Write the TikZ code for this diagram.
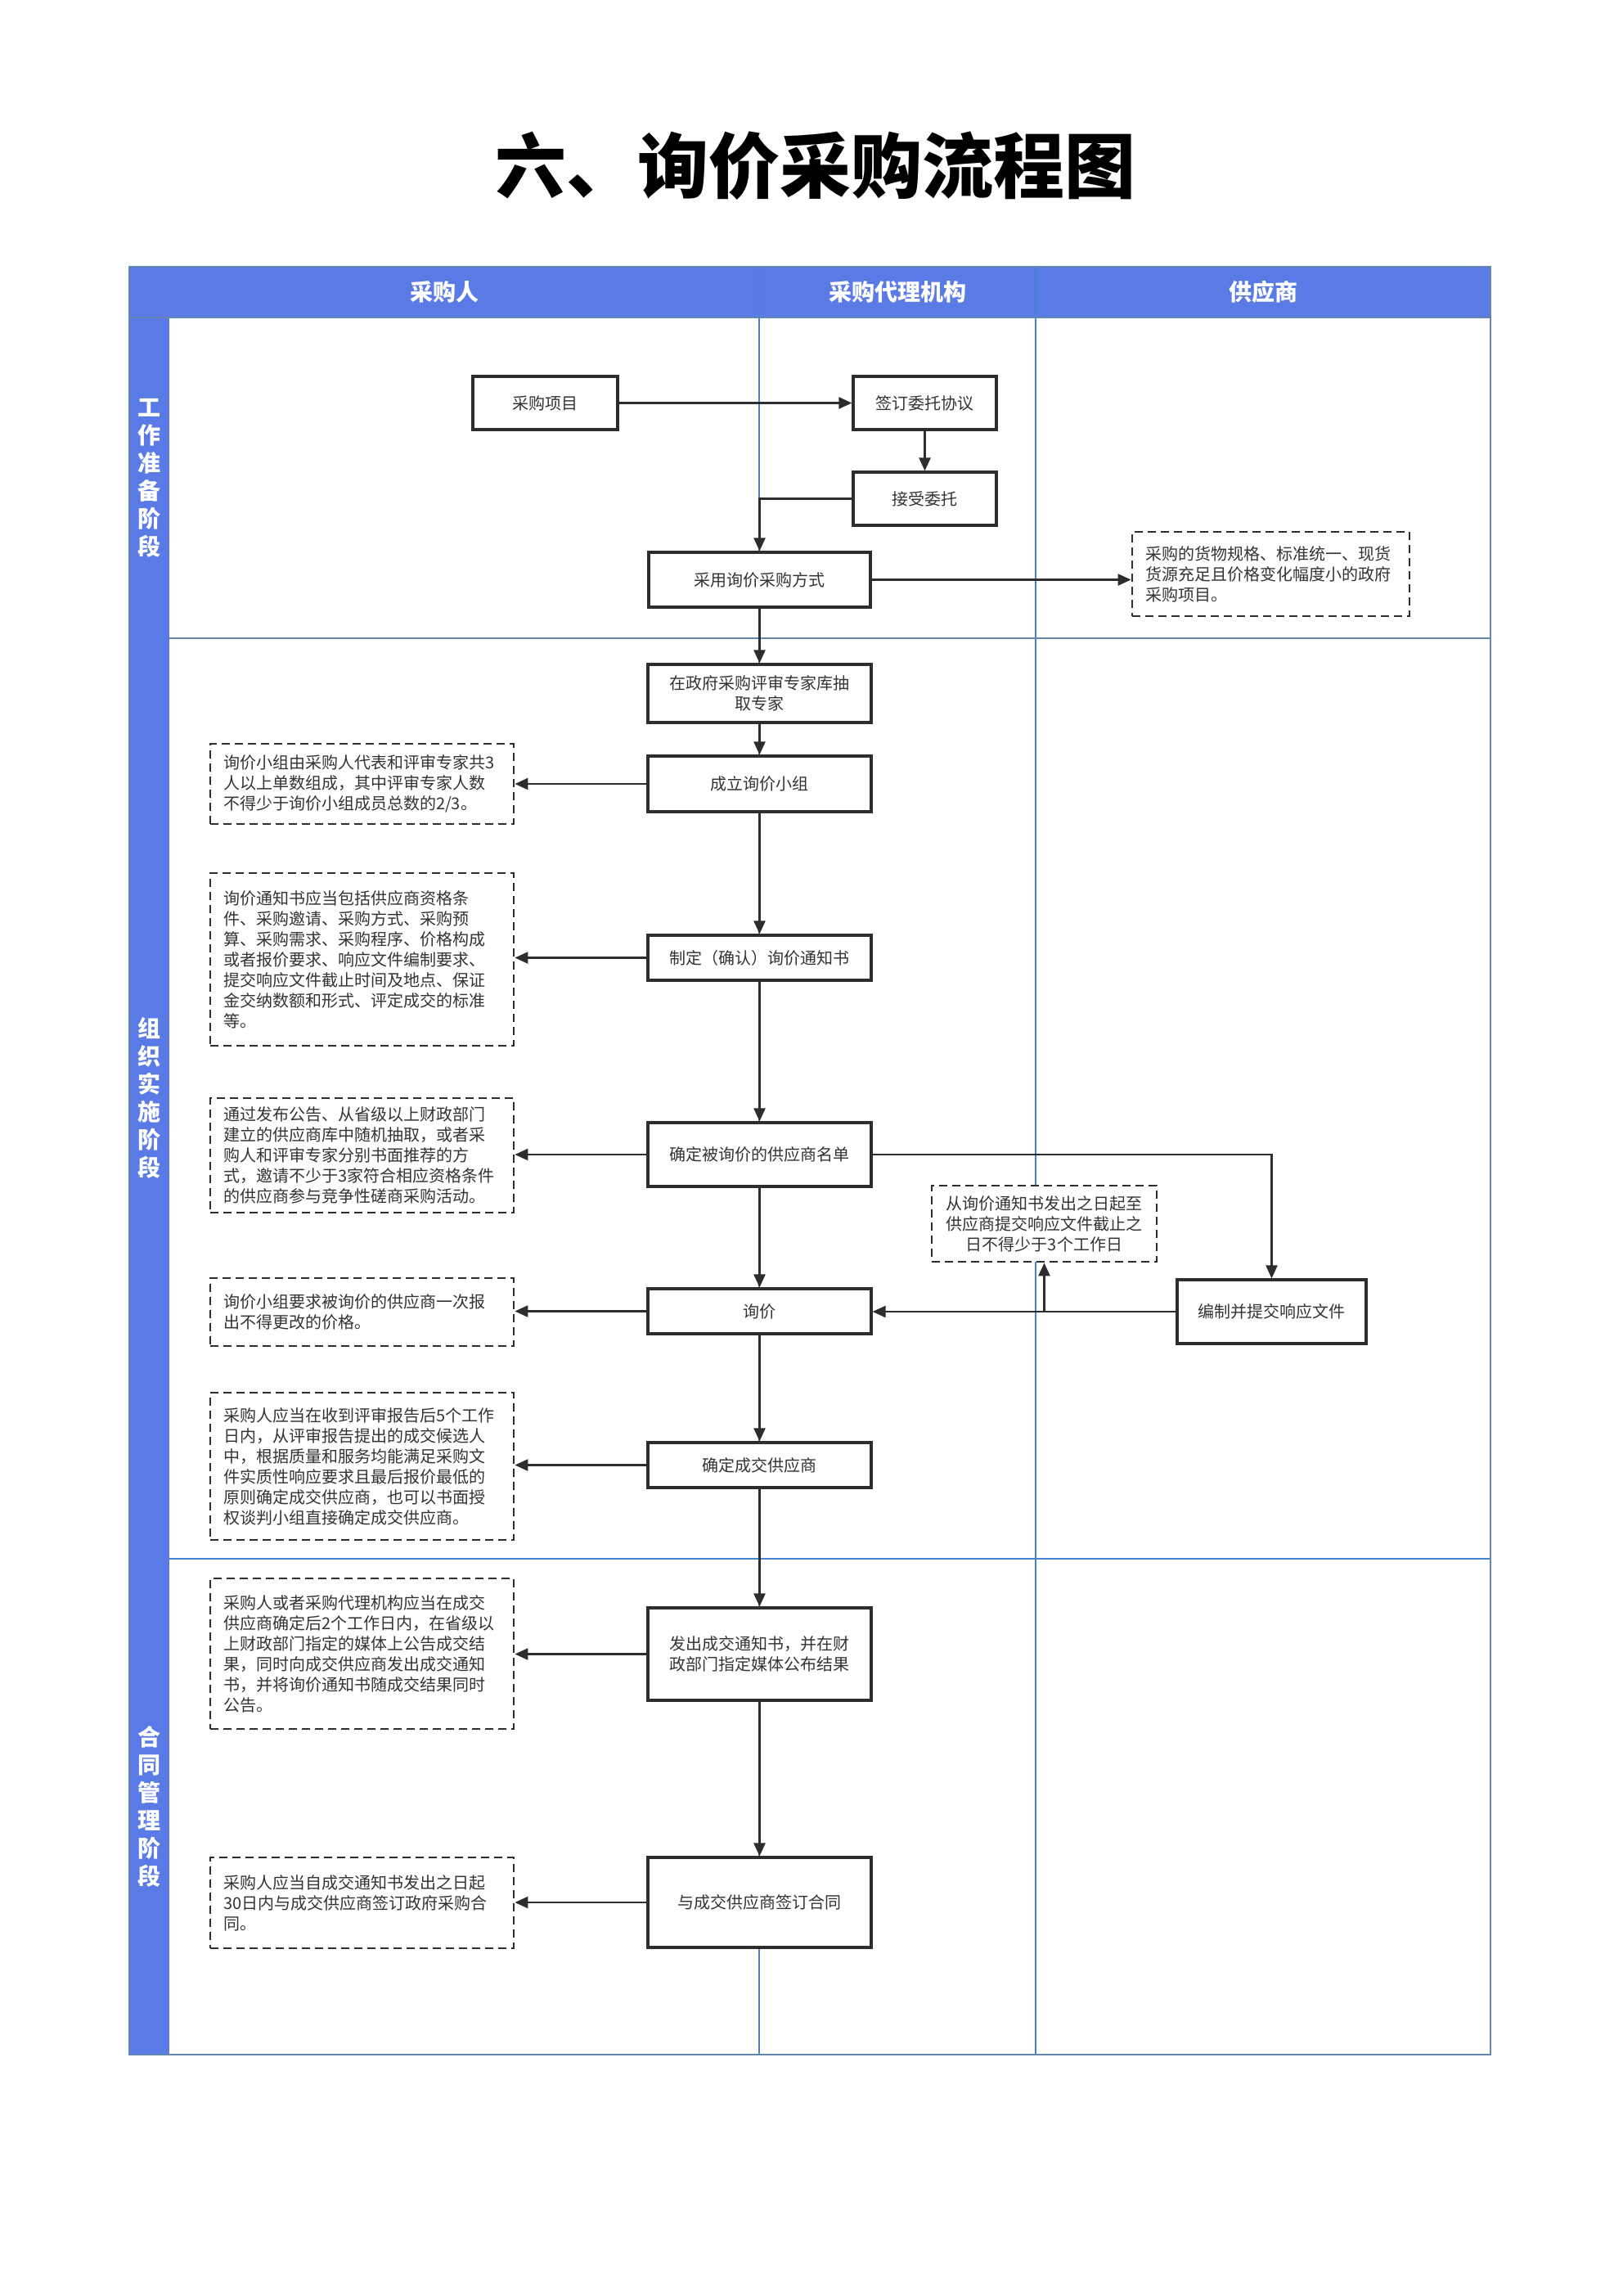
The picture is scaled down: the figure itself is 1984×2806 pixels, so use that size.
\documentclass[tikz,border=0pt]{standalone}
\usepackage{fontspec}
\setmainfont{Noto Sans CJK SC}
\usetikzlibrary{arrows.meta,calc}
\definecolor{hdrblue}{RGB}{90,123,229}
\definecolor{gridblue}{RGB}{70,130,210}
\definecolor{steel}{RGB}{100,135,175}
\definecolor{ink}{RGB}{45,45,45}
\definecolor{txt}{RGB}{51,51,51}
\tikzset{
 box/.style={draw=ink, line width=1.6pt, fill=white, text=txt, font=\fontsize{10pt}{12.5pt}\selectfont, align=center, inner sep=2pt},
 note/.style={draw=ink, line width=1.4pt, dash pattern=on 5pt off 3pt, fill=white, text=txt, font=\fontsize{10pt}{12.5pt}\selectfont, align=left, inner xsep=8pt, inner ysep=2pt},
 conn/.style={draw=ink, line width=1.2pt, -{Triangle[length=8pt,width=7pt]}},
 phase/.style={text=white, font=\bfseries\fontsize{14pt}{17pt}\selectfont, align=center},
 hdr/.style={text=white, font=\bfseries\fontsize{14pt}{17pt}\selectfont},
}
\begin{document}
\begin{tikzpicture}[x=0.5pt,y=-0.5pt]
\useasboundingbox (0,0) rectangle (1984,2806);
\fill[white] (0,0) rectangle (1984,2806);
% title
\node[font=\bfseries\fontsize{43.5pt}{50pt}\selectfont, text=black] (title) at (997,203) {六、询价采购流程图};
% table
\fill[hdrblue] (158,326) rectangle (1822,388);
\fill[hdrblue] (158,388) rectangle (207,2511);
\draw[gridblue, line width=0.8pt] (928,326) -- (928,2511);
\draw[gridblue, line width=0.8pt] (1266,326) -- (1266,2511);
\draw[gridblue, line width=0.8pt] (207,1905) -- (1822,1905);
\draw[steel, line width=1.2pt] (207,780) -- (1822,780);
\draw[steel, line width=1pt] (158,388) -- (1822,388);
\draw[steel, line width=1pt] (158,326) rectangle (1822,2511);
% headers
\node[hdr] (h1) at (543,357) {采购人};
\node[hdr] (h2) at (1097,357) {采购代理机构};
\node[hdr] (h3) at (1544,357) {供应商};
% phases
\node[phase] (ph1) at (182.5,584) {工\\作\\准\\备\\阶\\段};
\node[phase] (ph2) at (182.5,1342) {组\\织\\实\\施\\阶\\段};
\node[phase] (ph3) at (182.5,2208) {合\\同\\管\\理\\阶\\段};
% stage 1
\node[box, minimum width=88.5pt, minimum height=32.5pt] (p1) at (666.5,492.5) {采购项目};
\node[box, minimum width=87.5pt, minimum height=32.5pt] (p2) at (1130.5,492.5) {签订委托协议};
\node[box, minimum width=87.5pt, minimum height=32.5pt] (p3) at (1130.5,609.5) {接受委托};
\node[box, minimum width=135.5pt, minimum height=33.5pt] (p4) at (928.5,708.5) {采用询价采购方式};
\node[note, minimum width=169.5pt, minimum height=51.5pt, text width=153.5pt] (n0) at (1553.5,701.5) {采购的货物规格、标准统一、现货\\货源充足且价格变化幅度小的政府\\采购项目。};
% stage 2
\node[box, minimum width=136.5pt, minimum height=35.5pt] (b1) at (928.5,847.5) {在政府采购评审专家库抽\\取专家};
\node[box, minimum width=136.5pt, minimum height=34pt] (b2) at (928.5,958) {成立询价小组};
\node[note, minimum width=185.5pt, minimum height=49pt, text width=169.5pt] (n1) at (442.5,958) {询价小组由采购人代表和评审专家共3\\人以上单数组成，其中评审专家人数\\不得少于询价小组成员总数的2/3。};
\node[box, minimum width=136.5pt, minimum height=27.5pt] (b3) at (928.5,1170.5) {制定（确认）询价通知书};
\node[note, minimum width=185.5pt, minimum height=105.5pt, text width=169.5pt] (n2) at (442.5,1172.5) {询价通知书应当包括供应商资格条\\件、采购邀请、采购方式、采购预\\算、采购需求、采购程序、价格构成\\或者报价要求、响应文件编制要求、\\提交响应文件截止时间及地点、保证\\金交纳数额和形式、评定成交的标准\\等。};
\node[box, minimum width=136.5pt, minimum height=39pt] (b4) at (928.5,1411) {确定被询价的供应商名单};
\node[note, minimum width=185.5pt, minimum height=70pt, text width=169.5pt] (n3) at (442.5,1412) {通过发布公告、从省级以上财政部门\\建立的供应商库中随机抽取，或者采\\购人和评审专家分别书面推荐的方\\式，邀请不少于3家符合相应资格条件\\的供应商参与竞争性磋商采购活动。};
\node[box, minimum width=136.5pt, minimum height=27.5pt] (b5) at (928.5,1602.5) {询价};
\node[note, minimum width=185.5pt, minimum height=41.5pt, text width=169.5pt] (n4) at (442.5,1603.5) {询价小组要求被询价的供应商一次报\\出不得更改的价格。};
\node[box, minimum width=115.5pt, minimum height=39pt] (s1) at (1554.5,1603) {编制并提交响应文件};
\node[note, align=center, minimum width=137.5pt, minimum height=46.5pt] (n5) at (1276.5,1495.5) {从询价通知书发出之日起至\\供应商提交响应文件截止之\\日不得少于3个工作日};
\node[box, minimum width=136.5pt, minimum height=27.5pt] (b6) at (928.5,1790.5) {确定成交供应商};
\node[note, minimum width=185.5pt, minimum height=90pt, text width=169.5pt] (n6) at (442.5,1792) {采购人应当在收到评审报告后5个工作\\日内，从评审报告提出的成交候选人\\中，根据质量和服务均能满足采购文\\件实质性响应要求且最后报价最低的\\原则确定成交供应商，也可以书面授\\权谈判小组直接确定成交供应商。};
% stage 3
\node[box, minimum width=136.5pt, minimum height=56.5pt] (b7) at (928.5,2021.5) {发出成交通知书，并在财\\政部门指定媒体公布结果};
\node[note, minimum width=185.5pt, minimum height=92pt, text width=169.5pt] (n7) at (442.5,2021) {采购人或者采购代理机构应当在成交\\供应商确定后2个工作日内，在省级以\\上财政部门指定的媒体上公告成交结\\果，同时向成交供应商发出成交通知\\书，并将询价通知书随成交结果同时\\公告。};
\node[box, minimum width=136.5pt, minimum height=55pt] (b8) at (928.5,2325) {与成交供应商签订合同};
\node[note, minimum width=185.5pt, minimum height=55.5pt, text width=169.5pt] (n8) at (442.5,2325.5) {采购人应当自成交通知书发出之日起\\30日内与成交供应商签订政府采购合\\同。};
% connectors
\draw[conn] (p1.east) -- (p2.west);
\draw[conn] (p2.south) -- (p3.north);
\draw[conn] (p3.west) -| (p4.north);
\draw[conn] (p4.east) -- (p4.east -| n0.west);
\draw[conn] (p4.south) -- (b1.north);
\draw[conn] (b1.south) -- (b2.north);
\draw[conn] (b2.west) -- (b2.west -| n1.east);
\draw[conn] (b2.south) -- (b3.north);
\draw[conn] (b3.west) -- (b3.west -| n2.east);
\draw[conn] (b3.south) -- (b4.north);
\draw[conn] (b4.west) -- (b4.west -| n3.east);
\draw[conn] (b4.east) -| (s1.north);
\draw[conn] (b4.south) -- (b5.north);
\draw[conn] (b5.west) -- (b5.west -| n4.east);
\draw[conn] (s1.west) -- (s1.west -| b5.east);
\coordinate (br) at (n5.south |- s1.west);
\draw[conn] (br) -- (n5.south);
\draw[conn] (b5.south) -- (b6.north);
\draw[conn] (b6.west) -- (b6.west -| n6.east);
\draw[conn] (b6.south) -- (b7.north);
\draw[conn] (b7.west) -- (b7.west -| n7.east);
\draw[conn] (b7.south) -- (b8.north);
\draw[conn] (b8.west) -- (b8.west -| n8.east);
\end{tikzpicture}
\end{document}
